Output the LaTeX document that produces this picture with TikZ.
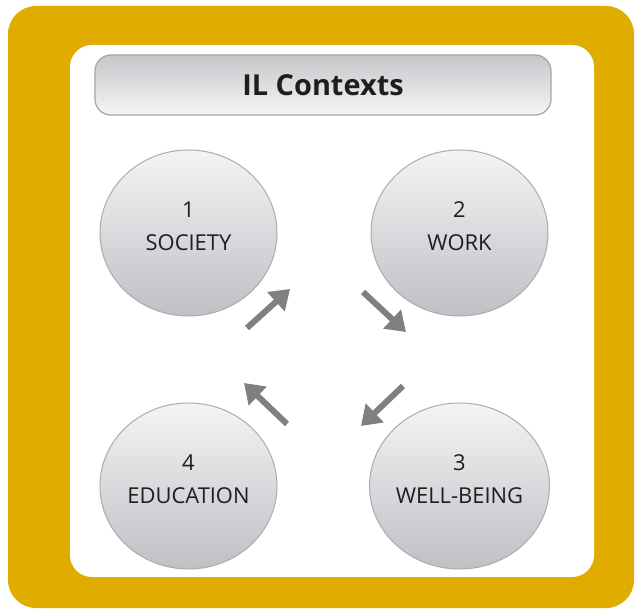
\documentclass[tikz,border=0pt]{standalone}
\usepackage{fontspec}
\setmainfont{Open Sans}
\usepackage{tikz}
\usetikzlibrary{arrows.meta,shapes.geometric}
\usepackage{xcolor}
\definecolor{gold}{RGB}{224,172,0}
\definecolor{boxtop}{RGB}{196,198,201}
\definecolor{boxbot}{RGB}{246,246,246}
\definecolor{boxline}{RGB}{165,165,167}
\definecolor{disctop}{RGB}{244,244,245}
\definecolor{discbot}{RGB}{190,192,196}
\definecolor{discline}{RGB}{172,172,175}
\definecolor{arrowgray}{RGB}{128,128,128}
\definecolor{ink}{RGB}{30,30,30}
\newcommand{\lowpad}{\rule[-14bp]{0pt}{0pt}}

\begin{document}
\begin{tikzpicture}[
    x=1bp, y=-1bp,
    frame/.style={fill=gold, rounded corners=28bp},
    panel/.style={fill=white, rounded corners=22bp},
    titlebox/.style={draw=boxline, line width=1.2bp, rounded corners=16bp, top color=boxtop, bottom color=boxbot,
        minimum width=456bp, minimum height=60bp, font=\fontsize{29}{34}\selectfont\bfseries, text=ink},
    disc/.style={ellipse, draw=discline, line width=1bp, top color=disctop, bottom color=discbot,
        minimum width=177bp, minimum height=166bp, inner sep=0pt, align=center,
        font=\fontsize{22}{33}\selectfont, text=ink},
    flow/.style={-{Triangle[length=19bp,width=25bp]}, line width=6bp, draw=arrowgray}
]

\useasboundingbox (0,0) rectangle (636,611);

% 外枠
\fill[frame] (8,6) rectangle (634,608);
\fill[panel] (70,45) rectangle (594,577);

% タイトル
\node[titlebox] (title) at (323,85) {IL Contexts};

% 4 つの円
\node[disc] (society)   at (188.5,233) {1\\SOCIETY\lowpad};
\node[disc] (work)      at (459.5,233) {2\\WORK\lowpad};
\node[disc] (wellbeing) at (459.5,486) {3\\WELL-BEING\lowpad};
\node[disc] (education) at (188.5,486) {4\\EDUCATION\lowpad};

% 矢印の端点
\coordinate (sw1) at (363,292); \coordinate (sw2) at (406,332);
\coordinate (ww1) at (403,386); \coordinate (ww2) at (361,426);
\coordinate (we1) at (287,424); \coordinate (we2) at (244,383);
\coordinate (es1) at (247,328); \coordinate (es2) at (290,289);

% 循環の矢印
\draw[flow] (sw1) -- (sw2);
\draw[flow] (ww1) -- (ww2);
\draw[flow] (we1) -- (we2);
\draw[flow] (es1) -- (es2);

\end{tikzpicture}
\end{document}
